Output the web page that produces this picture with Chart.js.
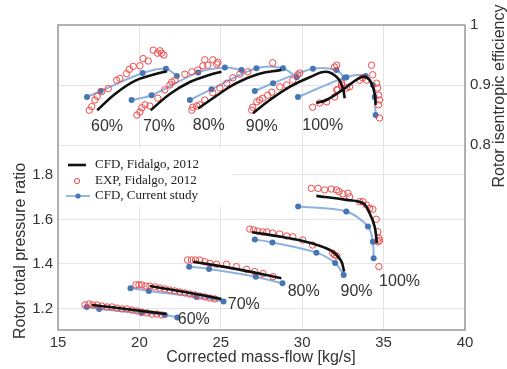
<!DOCTYPE html>
<html>
<head>
<meta charset="utf-8">
<script src="https://cdn.jsdelivr.net/npm/chart.js@4.4.1/dist/chart.umd.min.js"></script>
<style>
  html, body { margin: 0; padding: 0; background: #fff; }
</style>
</head>
<body>
<canvas id="chart" width="507" height="369"></canvas>
<script>
// speed lines
const speeds = ['60%', '70%', '80%', '90%', '100%'];
const seriesNames = ['CFD, Fidalgo, 2012', 'EXP, Fidalgo, 2012', 'CFD, Current study'];

// axis ticks
const xTicks = [15, 20, 25, 30, 35, 40];
const prTicks = [1.2, 1.4, 1.6, 1.8];
const effTicks = [0.8, 0.9, 1];

// efficiency vs mass-flow [kg/s] (upper curves), one list per speed
const effFidalgoCfd = [
  [[17.41, 0.858], [18.50, 0.885], [19.72, 0.907], [20.95, 0.918], [21.69, 0.923]],
  [[20.69, 0.858], [21.87, 0.885], [23.10, 0.905], [24.33, 0.917], [25.04, 0.922]],
  [[23.61, 0.861], [24.63, 0.880], [25.86, 0.902], [27.27, 0.918], [28.72, 0.925]],
  [[26.98, 0.853], [28.01, 0.875], [29.23, 0.897], [30.46, 0.913], [31.48, 0.922], [32.20, 0.911], [32.50, 0.894], [32.61, 0.878]],
  [[30.87, 0.870], [31.49, 0.875], [32.48, 0.892], [33.53, 0.912], [33.94, 0.913], [34.25, 0.903], [34.45, 0.886], [34.51, 0.867]]
];
const effFidalgoExp = [
  [[16.92, 0.858], [17.07, 0.864], [17.27, 0.875], [17.41, 0.881], [17.68, 0.889], [18.09, 0.894], [18.60, 0.908], [18.80, 0.911], [19.21, 0.919], [19.38, 0.926], [19.62, 0.931], [20.03, 0.932], [20.23, 0.944], [20.54, 0.940], [20.85, 0.958], [21.11, 0.953], [21.26, 0.957], [21.36, 0.953], [21.50, 0.950]],
  [[19.85, 0.850], [20.03, 0.855], [20.15, 0.862], [20.34, 0.867], [20.64, 0.865], [21.13, 0.878], [21.56, 0.892], [21.87, 0.900], [21.99, 0.905], [22.18, 0.908], [22.79, 0.918], [23.22, 0.922], [23.59, 0.925], [23.90, 0.932], [24.02, 0.942], [24.20, 0.933], [24.51, 0.942], [24.75, 0.935], [24.82, 0.938]],
  [[23.22, 0.858], [23.28, 0.863], [23.53, 0.865], [23.71, 0.867], [24.02, 0.875], [24.51, 0.887], [24.94, 0.895], [25.37, 0.903], [25.74, 0.912], [26.17, 0.918], [26.66, 0.922], [28.19, 0.937]],
  [[26.90, 0.858], [26.96, 0.863], [27.21, 0.872], [27.39, 0.875], [27.58, 0.878], [27.88, 0.883], [28.13, 0.888], [28.62, 0.897], [29.05, 0.900], [29.42, 0.908], [29.72, 0.917], [29.85, 0.920], [31.99, 0.930], [32.12, 0.933], [32.18, 0.892], [32.42, 0.900]],
  [[30.64, 0.863], [31.07, 0.870], [31.50, 0.872], [31.99, 0.880], [32.12, 0.892], [32.42, 0.903], [32.73, 0.895], [32.91, 0.897], [33.53, 0.908], [33.71, 0.912], [33.96, 0.908], [34.26, 0.933], [34.33, 0.917], [34.57, 0.903], [34.63, 0.895], [34.69, 0.883], [34.75, 0.875], [34.69, 0.867], [34.75, 0.845]]
];
const effCurrent = [
  [[16.78, 0.880], [17.62, 0.890], [20.20, 0.920], [21.63, 0.927], [22.30, 0.915]],
  [[19.52, 0.875], [20.75, 0.883], [23.61, 0.921], [25.25, 0.929], [26.27, 0.925]],
  [[23.10, 0.875], [24.43, 0.893], [27.19, 0.928], [28.82, 0.928], [29.66, 0.913]],
  [[27.09, 0.890], [28.21, 0.903], [30.66, 0.927], [32.10, 0.925], [32.61, 0.912]],
  [[29.74, 0.880], [32.71, 0.913], [33.90, 0.915], [34.34, 0.900], [34.45, 0.880], [34.51, 0.850]]
];

// total pressure ratio vs mass-flow [kg/s] (lower curves)
const prFidalgoCfd = [
  [[17.07, 1.216], [19.30, 1.197], [21.67, 1.175]],
  [[20.64, 1.301], [22.80, 1.274], [25.04, 1.243]],
  [[23.30, 1.410], [26.00, 1.377], [28.72, 1.336]],
  [[26.93, 1.543], [28.80, 1.521], [30.58, 1.493], [31.75, 1.461], [32.36, 1.418], [32.58, 1.366]],
  [[30.87, 1.706], [32.71, 1.688], [33.73, 1.673], [34.14, 1.628], [34.45, 1.568], [34.59, 1.493]]
];
const prFidalgoExp = [
  [[16.66, 1.216], [16.90, 1.220], [17.15, 1.216], [17.39, 1.216], [17.70, 1.211], [18.01, 1.207], [18.31, 1.207], [18.62, 1.202], [18.93, 1.198], [19.23, 1.198], [19.54, 1.193], [19.85, 1.189], [20.15, 1.184], [20.46, 1.180], [20.77, 1.175], [21.07, 1.175], [21.38, 1.171]],
  [[19.79, 1.306], [19.97, 1.306], [20.15, 1.306], [20.40, 1.301], [20.64, 1.301], [20.95, 1.297], [21.26, 1.292], [21.56, 1.288], [21.87, 1.283], [22.18, 1.279], [22.48, 1.274], [22.79, 1.270], [23.10, 1.265], [23.40, 1.261], [23.71, 1.256], [24.02, 1.252], [24.33, 1.247], [24.63, 1.243]],
  [[22.96, 1.418], [23.20, 1.418], [23.45, 1.418], [23.71, 1.418], [24.02, 1.410], [24.33, 1.403], [24.74, 1.399], [25.35, 1.399], [25.96, 1.388], [26.58, 1.376], [27.09, 1.366], [27.60, 1.357], [28.21, 1.343]],
  [[26.78, 1.557], [27.02, 1.553], [27.27, 1.548], [27.58, 1.544], [27.82, 1.544], [28.19, 1.539], [28.62, 1.535], [29.05, 1.526], [29.42, 1.522], [30.03, 1.508], [30.64, 1.485], [31.87, 1.449], [31.99, 1.440], [32.12, 1.436]],
  [[30.56, 1.740], [30.97, 1.740], [31.38, 1.733], [31.79, 1.737], [32.10, 1.733], [32.26, 1.725], [32.50, 1.715], [32.81, 1.718], [32.91, 1.702], [33.53, 1.680], [33.73, 1.680], [33.94, 1.665], [34.14, 1.650], [34.34, 1.646], [34.55, 1.601], [34.65, 1.545], [34.71, 1.516], [34.65, 1.500], [34.75, 1.505], [34.71, 1.388]]
];
const prCurrent = [
  [[16.76, 1.207], [17.53, 1.198], [20.13, 1.180], [21.56, 1.171], [22.33, 1.160]],
  [[19.45, 1.291], [20.58, 1.279], [23.51, 1.252], [25.17, 1.231]],
  [[23.06, 1.388], [24.28, 1.378], [27.15, 1.343], [28.79, 1.313]],
  [[27.09, 1.510], [28.17, 1.497], [30.87, 1.451], [32.02, 1.405], [32.55, 1.351]],
  [[29.75, 1.658], [32.71, 1.636], [34.04, 1.569], [34.34, 1.500], [34.39, 1.426]]
];

// where the speed labels sit, in data units
const effLabelAt = [[18.01, 0.830], [21.20, 0.830], [24.26, 0.832], [27.52, 0.830], [31.26, 0.832]];
const prLabelAt = [[23.34, 1.148], [26.41, 1.216], [30.09, 1.274], [33.34, 1.274], [35.98, 1.319]];

const black = '#111111';
const red = '#f04848';
const blueLine = '#8db2e0';
const blueDot = '#4676b6';
const gridCol = '#e4e4e4';
const frameCol = '#9a9a9a';
const textCol = '#333333';
const sans = "'Liberation Sans', Arial, sans-serif";
const serif = "'Liberation Serif', 'Times New Roman', serif";

function pts(arr) {
  return arr.map(p => ({ x: p[0], y: p[1] }));
}

const datasets = [];
[['yEff', effFidalgoCfd, effFidalgoExp, effCurrent], ['yPr', prFidalgoCfd, prFidalgoExp, prCurrent]].forEach(grp => {
  const axis = grp[0];
  speeds.forEach((s, i) => {
    datasets.push({
      label: seriesNames[2] + ' ' + s, data: pts(grp[3][i]), yAxisID: axis,
      showLine: true, borderColor: blueLine, borderWidth: 2, tension: 0.3,
      pointRadius: 3, pointBackgroundColor: blueDot, pointBorderColor: blueDot, pointBorderWidth: 0,
      order: 3
    });
    datasets.push({
      label: seriesNames[1] + ' ' + s, data: pts(grp[2][i]), yAxisID: axis,
      showLine: false, pointStyle: 'circle', pointRadius: 3.2,
      pointBackgroundColor: 'rgba(0,0,0,0)', pointBorderColor: red, pointBorderWidth: 1,
      order: 2
    });
    datasets.push({
      label: seriesNames[0] + ' ' + s, data: pts(grp[1][i]), yAxisID: axis,
      showLine: true, borderColor: black, borderWidth: 2.6, tension: 0.4,
      pointRadius: 0, order: 1
    });
  });
});

// legend box, frame, speed labels and axis titles
const decor = {
  id: 'decor',
  beforeDatasetsDraw(chart) {
    const ctx = chart.ctx;
    ctx.save();
    ctx.fillStyle = '#fff';
    ctx.fillRect(59, 148, 174, 59);
    ctx.restore();
  },
  afterDraw(chart) {
    const ctx = chart.ctx;
    const a = chart.chartArea;
    const x = chart.scales.x, yE = chart.scales.yEff, yP = chart.scales.yPr;
    ctx.save();

    // frame
    ctx.strokeStyle = frameCol;
    ctx.lineWidth = 1.5;
    ctx.strokeRect(a.left, a.top, a.right - a.left, a.bottom - a.top);

    // speed labels
    ctx.fillStyle = textCol;
    ctx.font = '16px ' + sans;
    ctx.textAlign = 'center';
    ctx.textBaseline = 'middle';
    speeds.forEach((s, i) => {
      ctx.fillText(s, x.getPixelForValue(effLabelAt[i][0]), yE.getPixelForValue(effLabelAt[i][1]));
      ctx.fillText(s, x.getPixelForValue(prLabelAt[i][0]), yP.getPixelForValue(prLabelAt[i][1]));
    });

    // axis titles
    ctx.fillText('Corrected mass-flow [kg/s]', 261, 358);
    ctx.save();
    ctx.translate(21, 251);
    ctx.rotate(-Math.PI / 2);
    ctx.fillText('Rotor total pressure ratio', 0, 0);
    ctx.restore();
    ctx.save();
    ctx.translate(500, 96);
    ctx.rotate(-Math.PI / 2);
    ctx.fillText('Rotor isentropic efficiency', 0, 0);
    ctx.restore();

    // legend
    ctx.textAlign = 'left';
    ctx.font = '13px ' + serif;
    ctx.fillStyle = '#222';
    ctx.strokeStyle = black;
    ctx.lineWidth = 2.6;
    ctx.beginPath(); ctx.moveTo(68, 165); ctx.lineTo(86, 165); ctx.stroke();
    ctx.fillText(seriesNames[0], 95, 165);
    ctx.strokeStyle = red;
    ctx.lineWidth = 1;
    ctx.beginPath(); ctx.arc(77, 181, 2.6, 0, Math.PI * 2); ctx.stroke();
    ctx.fillText(seriesNames[1], 95, 181);
    ctx.strokeStyle = blueLine;
    ctx.lineWidth = 1.8;
    ctx.beginPath(); ctx.moveTo(66, 196); ctx.lineTo(90, 196); ctx.stroke();
    ctx.fillStyle = blueDot;
    ctx.beginPath(); ctx.arc(78, 196, 2.6, 0, Math.PI * 2); ctx.fill();
    ctx.fillStyle = '#222';
    ctx.fillText(seriesNames[2], 95, 196);

    ctx.restore();
  }
};

const tickFont = { family: sans, size: 15 };

new Chart(document.getElementById('chart'), {
  type: 'scatter',
  data: { datasets: datasets },
  options: {
    responsive: false,
    animation: false,
    devicePixelRatio: 1,
    layout: { padding: { top: 25, left: 0, right: 0, bottom: 0 } },
    plugins: { legend: { display: false }, tooltip: { enabled: false } },
    scales: {
      x: {
        type: 'linear', min: 15, max: 40,
        afterBuildTicks: s => { s.ticks = xTicks.map(v => ({ value: v })); },
        afterFit: s => { s.height = 39; },
        grid: { color: gridCol, drawTicks: false },
        border: { display: false },
        ticks: { font: tickFont, color: textCol, padding: 4, maxRotation: 0 }
      },
      yPr: {
        type: 'linear', position: 'left', min: 1.1034, max: 2.474,
        afterBuildTicks: s => { s.ticks = prTicks.map(v => ({ value: v })); },
        afterFit: s => { s.width = 58; },
        grid: { color: gridCol, drawTicks: false },
        border: { display: false },
        ticks: { font: tickFont, color: textCol, padding: 5, callback: v => v.toFixed(1) }
      },
      yEff: {
        type: 'linear', position: 'right', min: 0.4917, max: 1,
        afterBuildTicks: s => { s.ticks = effTicks.map(v => ({ value: v })); },
        afterFit: s => { s.width = 42; },
        grid: { color: ctx => (ctx.tick && ctx.tick.value === 1 ? 'rgba(0,0,0,0)' : gridCol), drawTicks: false },
        border: { display: false },
        ticks: { font: tickFont, color: textCol, padding: 5, callback: v => (v === 1 ? '1' : v.toFixed(1)) }
      }
    }
  },
  plugins: [decor]
});
</script>
</body>
</html>
